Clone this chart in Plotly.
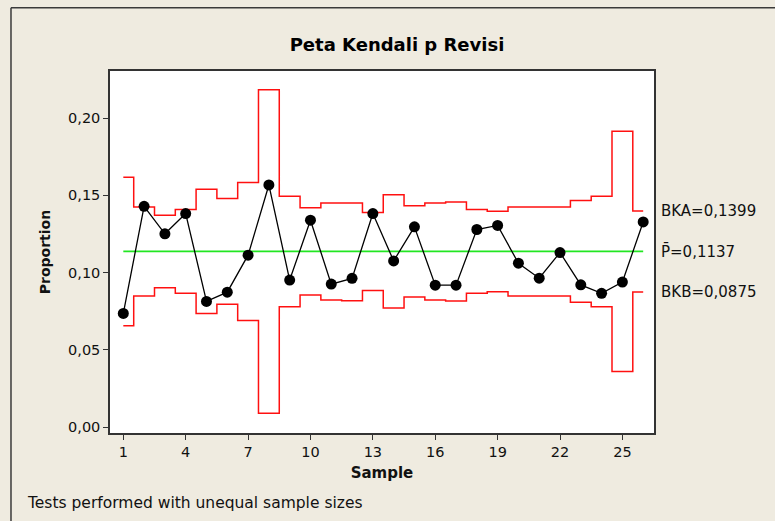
import plotly.graph_objects as go

samples = list(range(1, 27))
proportion = [0.0736, 0.1429, 0.1251, 0.1382, 0.0814, 0.0874, 0.1113, 0.1567, 0.0952, 0.1339,
              0.0926, 0.0963, 0.1382, 0.1076, 0.1296, 0.0919, 0.0919, 0.1279, 0.1305, 0.1061,
              0.0964, 0.1130, 0.0921, 0.0866, 0.0939, 0.1328]
ucl = [0.1617, 0.1425, 0.1371, 0.1408, 0.1539, 0.1479, 0.1583, 0.2183, 0.1494, 0.1419,
       0.1451, 0.1451, 0.1389, 0.1503, 0.1432, 0.1451, 0.1457, 0.1408, 0.1397, 0.1425,
       0.1425, 0.1425, 0.1466, 0.1494, 0.1914, 0.1399]
lcl = [0.0657, 0.0849, 0.0903, 0.0866, 0.0735, 0.0795, 0.0691, 0.0091, 0.0780, 0.0855,
       0.0823, 0.0818, 0.0885, 0.0771, 0.0842, 0.0823, 0.0817, 0.0866, 0.0877, 0.0849,
       0.0849, 0.0849, 0.0808, 0.0780, 0.0360, 0.0875]
pbar = 0.1137
ucl_last = 0.1399
lcl_last = 0.0875
x_ticks = [1, 4, 7, 10, 13, 16, 19, 22, 25]
y_ticks = [0.00, 0.05, 0.10, 0.15, 0.20]
y_tick_labels = ["0,00", "0,05", "0,10", "0,15", "0,20"]

FONT = "DejaVu Sans"
BG = "#EFEBE0"
AX = "#333333"

fig = go.Figure()
fig.add_trace(go.Scatter(x=samples, y=ucl, mode="lines", line=dict(color="#FF1010", width=1.5, shape="hvh"),
                         showlegend=False, hoverinfo="skip"))
fig.add_trace(go.Scatter(x=samples, y=lcl, mode="lines", line=dict(color="#FF1010", width=1.5, shape="hvh"),
                         showlegend=False, hoverinfo="skip"))
fig.add_trace(go.Scatter(x=[samples[0], samples[-1]], y=[pbar, pbar], mode="lines",
                         line=dict(color="#22E622", width=1.8), showlegend=False, hoverinfo="skip"))
fig.add_trace(go.Scatter(x=samples, y=proportion, mode="lines+markers",
                         line=dict(color="black", width=1.3),
                         marker=dict(color="black", size=11), showlegend=False))

annots = [
    dict(text="BKA=0,1399", y=ucl_last),
    dict(text="P\u0304=0,1137", y=pbar),
    dict(text="BKB=0,0875", y=lcl_last),
]
for a in annots:
    fig.add_annotation(x=1.0, xref="paper", xanchor="left", xshift=5, y=a["y"], yref="y",
                       yanchor="middle", text=a["text"], showarrow=False,
                       font=dict(family=FONT, size=15, color="#111111"))

fig.add_annotation(x=-0.156, xref="paper", xanchor="left", y=-0.193, yref="paper", yanchor="middle",
                   text="Tests performed with unequal sample sizes", showarrow=False,
                   font=dict(family=FONT, size=15.5, color="#111111"))

# outer frame lines (left and top)
fig.add_shape(type="line", xref="paper", yref="paper", x0=-0.182, x1=-0.182, y0=-0.5, y1=1.1744,
              line=dict(color="#3a3a3a", width=1.5))
fig.add_shape(type="line", xref="paper", yref="paper", x0=-0.182, x1=1.5, y0=1.1744, y1=1.1744,
              line=dict(color="#3a3a3a", width=1.5))

fig.update_layout(
    width=775, height=521,
    paper_bgcolor=BG, plot_bgcolor="white",
    margin=dict(l=110, r=121, t=71, b=88),
    title=dict(text="<b>Peta Kendali p Revisi</b>", x=397 / 775, xanchor="center",
               y=1 - 45 / 521, yanchor="middle",
               font=dict(family=FONT, size=18, color="black")),
    font=dict(family=FONT, size=14, color="#111111"),
)
fig.update_xaxes(range=[0.36, 26.52], tickvals=x_ticks, ticks="outside", ticklen=5, tickcolor=AX,
                 showline=True, linecolor=AX, linewidth=1.5, mirror=True, showgrid=False, zeroline=False,
                 title=dict(text="<b>Sample</b>", font=dict(family=FONT, size=15), standoff=8),
                 tickfont=dict(family=FONT, size=14.5))
fig.update_yaxes(range=[-0.0037, 0.2304], tickvals=y_ticks, ticktext=y_tick_labels, ticks="outside",
                 ticklen=5, tickcolor=AX,
                 showline=True, linecolor=AX, linewidth=1.5, mirror=True, showgrid=False, zeroline=False,
                 title=dict(text="<b>Proportion</b>", font=dict(family=FONT, size=14), standoff=14),
                 tickfont=dict(family=FONT, size=14.5))

fig.write_html("out.html", config={"displayModeBar": False},
               post_script="document.body.style.margin='0px';")
